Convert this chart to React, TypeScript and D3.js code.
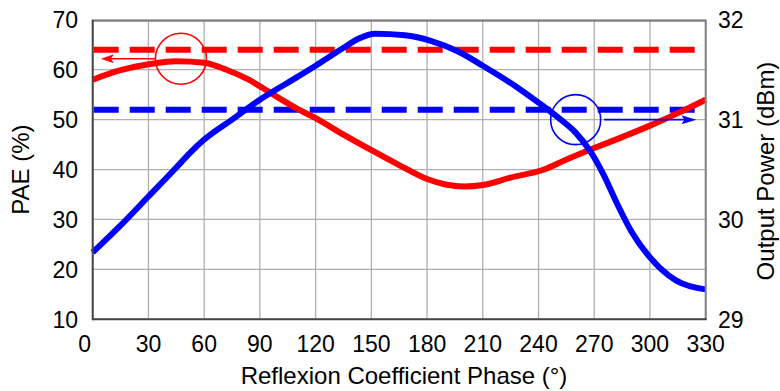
import React from "react";
import * as d3 from "d3";

// ---- data ----
const phaseTicks = [0, 30, 60, 90, 120, 150, 180, 210, 240, 270, 300, 330];
const paeTicks = [10, 20, 30, 40, 50, 60, 70];
const poutTicks = [29, 30, 31, 32];

const paePhase = [0, 15, 30, 45, 60, 72, 84, 96, 110, 120, 135, 150, 165, 180, 190, 200, 210, 225, 243, 255, 270, 285, 300, 315, 330];
const paeValues = [58, 59.9, 61.1, 61.7, 61.4, 60, 58, 55.3, 52.2, 50.3, 47, 43.9, 40.9, 38.1, 37, 36.6, 36.9, 38.4, 40, 42, 44.3, 46.5, 48.8, 51.3, 54];

const poutPhase = [0, 15, 30, 45, 52, 60, 75, 90, 105, 120, 135, 143, 152, 168, 182, 197, 210, 228, 240, 250, 260, 268, 275, 282, 290, 300, 310, 317, 322, 330];
const poutValues = [29.67, 29.94, 30.23, 30.52, 30.66, 30.8, 31.0, 31.2, 31.37, 31.54, 31.72, 31.81, 31.86, 31.845, 31.79, 31.68, 31.54, 31.33, 31.17, 31.03, 30.87, 30.68, 30.45, 30.17, 29.88, 29.62, 29.44, 29.36, 29.33, 29.3];

const paeRef = 64; // dashed red reference (%)
const poutRef = 31.1; // dashed blue reference (dBm)

// annotation anchors (data units)
const redMarker = { phase: 47.5, pae: 62.2, arrowFrom: 34, arrowTo: 4.4 };
const blueMarker = { phase: 260, pout: 31.0, arrowFrom: 275.3, arrowTo: 325 };

const FONT = "'Liberation Sans', Arial, Helvetica, sans-serif";

export default function App() {
  const W = 780, H = 391;
  const left = 92.7, right = 705.7, top = 19.8, bottom = 319.3;

  const x = d3.scaleLinear().domain([0, 330]).range([left, right]);
  const y = d3.scaleLinear().domain([10, 70]).range([bottom, top]);
  const y2 = d3.scaleLinear().domain([29, 32]).range([bottom, top]);

  const redLine = d3
    .line<number>()
    .x((_, i) => x(paePhase[i]))
    .y((d) => y(d))
    .curve(d3.curveMonotoneX)(paeValues) as string;

  const blueLine = d3
    .line<number>()
    .x((_, i) => x(poutPhase[i]))
    .y((d) => y2(d))
    .curve(d3.curveMonotoneX)(poutValues) as string;

  const rcx = x(redMarker.phase), rcy = y(redMarker.pae);
  const rAx2 = x(redMarker.arrowTo);
  const bcx = x(blueMarker.phase), bcy = y2(blueMarker.pout);
  const bAx1 = x(blueMarker.arrowFrom), bAx2 = x(blueMarker.arrowTo);

  const tickSize = 23;
  const titleSize = 24;

  return (
    <svg
      width={W}
      height={H}
      style={{ position: "absolute", left: 0, top: 0, background: "#fff" }}
      fontFamily={FONT}
    >
      {/* grid */}
      <g stroke="#b0b0b0" strokeWidth={1.3}>
        {phaseTicks.map((p) => (
          <line key={"gx" + p} x1={x(p)} x2={x(p)} y1={top} y2={bottom} />
        ))}
        {paeTicks.map((v) => (
          <line key={"gy" + v} x1={left} x2={right} y1={y(v)} y2={y(v)} />
        ))}
      </g>

      {/* dashed references */}
      <line x1={left + 1} x2={right - 1} y1={y(paeRef)} y2={y(paeRef)} stroke="#ff0000" strokeWidth={6} strokeDasharray="25 11" />
      <line x1={left + 1} x2={right - 1} y1={y2(poutRef)} y2={y2(poutRef)} stroke="#0000ff" strokeWidth={6} strokeDasharray="25 11" />

      {/* curves */}
      <path d={redLine} fill="none" stroke="#ff0000" strokeWidth={6} strokeLinejoin="round" />
      <path d={blueLine} fill="none" stroke="#0000ff" strokeWidth={6} strokeLinejoin="round" />

      {/* annotations */}
      <circle cx={rcx} cy={rcy} r={25.5} fill="none" stroke="#ff0000" strokeWidth={1.6} />
      <line x1={rcx - 25} x2={rAx2 + 8} y1={rcy} y2={rcy} stroke="#ff0000" strokeWidth={1.6} />
      <path d={`M${rAx2},${rcy} L${rAx2 + 13},${rcy - 4.5} L${rAx2 + 10},${rcy} L${rAx2 + 13},${rcy + 4.5} Z`} fill="#ff0000" />

      <circle cx={bcx} cy={bcy} r={25} fill="none" stroke="#0000ff" strokeWidth={1.6} />
      <line x1={bAx1} x2={bAx2 - 8} y1={bcy} y2={bcy} stroke="#0000ff" strokeWidth={1.6} />
      <path d={`M${bAx2},${bcy} L${bAx2 - 15},${bcy - 4.5} L${bAx2 - 12},${bcy} L${bAx2 - 15},${bcy + 4.5} Z`} fill="#0000ff" />

      {/* frame */}
      <line x1={left} x2={right} y1={top + 1} y2={top + 1} stroke="#808080" strokeWidth={2} />
      <line x1={right} x2={right} y1={top} y2={bottom} stroke="#808080" strokeWidth={2} />
      <line x1={left} x2={left} y1={top} y2={bottom + 1} stroke="#444" strokeWidth={2} />
      <line x1={left} x2={right + 1} y1={bottom} y2={bottom} stroke="#444" strokeWidth={2} />

      {/* tick labels */}
      <g fontSize={tickSize} fill="#000">
        {phaseTicks.map((p) => (
          <text key={"tx" + p} x={p === 0 ? x(p) - 8 : x(p)} y={352} textAnchor="middle">
            {p}
          </text>
        ))}
        {paeTicks.map((v) => (
          <text key={"ty" + v} x={78} y={y(v)} dy="0.36em" textAnchor="end">
            {v}
          </text>
        ))}
        {poutTicks.map((v) => (
          <text key={"ty2" + v} x={718} y={y2(v)} dy="0.36em" textAnchor="start">
            {v}
          </text>
        ))}
      </g>

      {/* axis titles */}
      <text x={404} y={384} fontSize={titleSize} textAnchor="middle">
        Reflexion Coefficient Phase (°)
      </text>
      <text transform={`translate(29,${(top + bottom) / 2}) rotate(-90)`} fontSize={titleSize} textAnchor="middle">
        PAE (%)
      </text>
      <text transform={`translate(774,171) rotate(-90)`} fontSize={titleSize} textAnchor="middle">
        Output Power (dBm)
      </text>
    </svg>
  );
}
